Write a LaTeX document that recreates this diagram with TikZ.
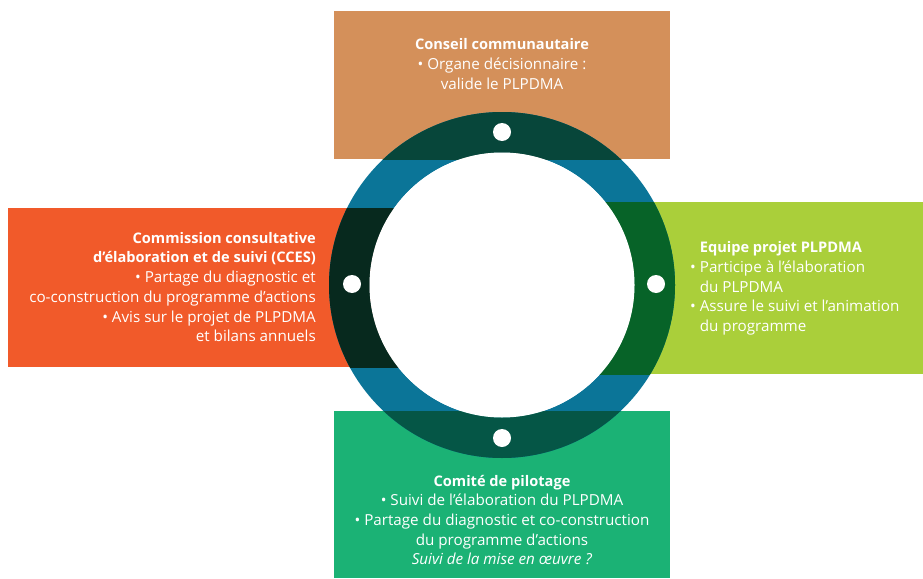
\documentclass[tikz,border=0pt]{standalone}
\usepackage{fontspec}
\setmainfont{Open Sans}
\definecolor{cTop}{HTML}{D4905A}
\definecolor{cLeft}{HTML}{F15A2A}
\definecolor{cRight}{HTML}{AACF3A}
\definecolor{cBot}{HTML}{1BB275}
\definecolor{ringBlue}{HTML}{0B7598}
\definecolor{oTop}{HTML}{07463A}
\definecolor{oLeft}{HTML}{07291E}
\definecolor{oRight}{HTML}{076328}
\definecolor{oBot}{HTML}{055646}
\newcommand\boxtitle[1]{{\fontsize{14.6}{19.7}\selectfont\bfseries #1}}
\tikzset{
  box/.style={anchor=north west, inner sep=0pt, outer sep=0pt, draw=none},
  txt/.style={text=white, inner sep=0pt, font=\fontsize{15.2}{19.7}\selectfont},
  dot/.style={circle, fill=white, minimum size=18pt, inner sep=0pt},
}
\begin{document}
\begin{tikzpicture}[x=1pt,y=-1pt]
\useasboundingbox (0,0) rectangle (923,578);
% boxes
\node[box, fill=cTop, minimum width=336pt, minimum height=148pt] (top) at (334,11) {};
\node[box, fill=cLeft, minimum width=494pt, minimum height=159pt] (left) at (8,208) {};
\node[box, fill=cRight, minimum width=421pt, minimum height=172pt] (right) at (502,202) {};
\node[box, fill=cBot, minimum width=336pt, minimum height=167pt] (bottom) at (334,411) {};
\coordinate (c) at (502,285);
% ring
\fill[ringBlue, even odd rule] (c) circle (173) (c) circle (132.5);
\begin{scope}
  \clip (top.north west) rectangle (top.south east);
  \fill[oTop, even odd rule] (c) circle (173) (c) circle (132.5);
\end{scope}
\begin{scope}
  \clip (left.north west) rectangle (left.south east);
  \fill[oLeft, even odd rule] (c) circle (173) (c) circle (132.5);
\end{scope}
\begin{scope}
  \clip (right.north west) rectangle (right.south east);
  \fill[oRight, even odd rule] (c) circle (173) (c) circle (132.5);
\end{scope}
\begin{scope}
  \clip (bottom.north west) rectangle (bottom.south east);
  \fill[oBot, even odd rule] (c) circle (173) (c) circle (132.5);
\end{scope}
\fill[white] (c) circle (132.5);
% dots
\node[dot] (dtop) at (502,132) {};
\node[dot] (dbot) at (502,438) {};
\node[dot] (dleft) at (352,284) {};
\node[dot] (dright) at (656,284) {};
% texts
\node[txt, align=center] (ttop) at (502,64) {\boxtitle{Conseil communautaire}\\• Organe décisionnaire :\\valide le PLPDMA};
\node[txt, align=right, anchor=east] (tleft) at (316,287) {\boxtitle{Commission consultative}\\\boxtitle{d’élaboration et de suivi (CCES)}\\• Partage du diagnostic et\\co-construction du programme d’actions\\• Avis sur le projet de PLPDMA\\et bilans annuels};
\node[txt, align=left, anchor=west] (tright) at (690,288.5) {\phantom{• }\boxtitle{Equipe projet PLPDMA}\\• Participe à l’élaboration\\\phantom{• }du PLPDMA\\• Assure le suivi et l’animation\\\phantom{• }du programme};
\node[txt, align=center] (tbot) at (502,520) {\boxtitle{Comité de pilotage}\\• Suivi de l’élaboration du PLPDMA\\• Partage du diagnostic et co-construction\\du programme d’actions\\\textit{Suivi de la mise en œuvre ?}};
\end{tikzpicture}
\end{document}
